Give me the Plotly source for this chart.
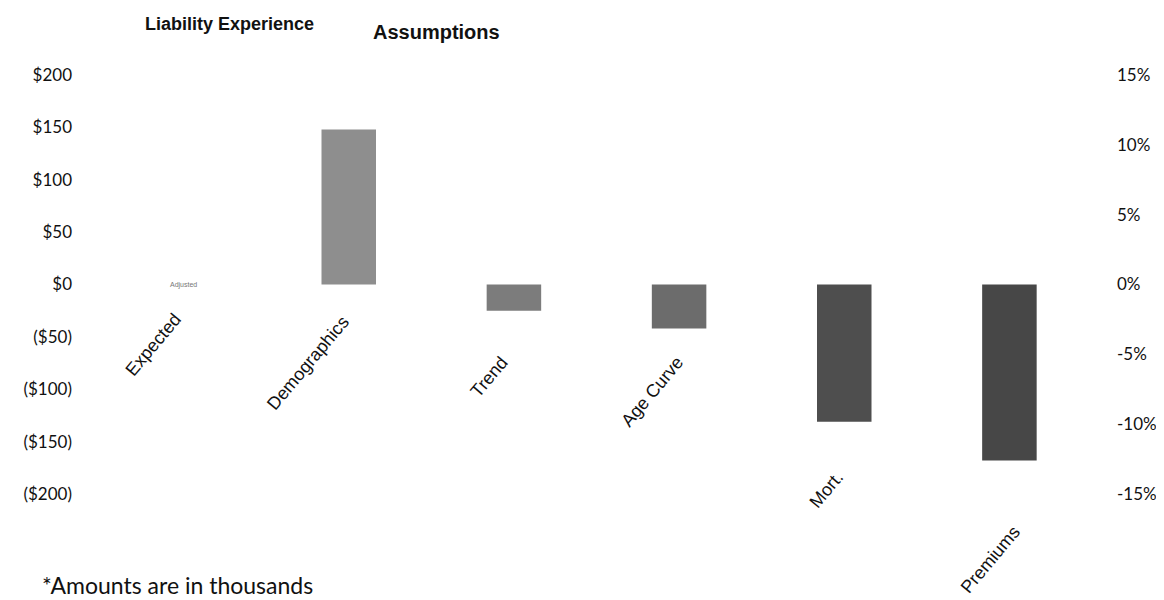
import plotly.graph_objects as go

# ---- data ----
categories = ["Expected", "Demographics", "Trend", "Age Curve", "Mort.", "Premiums"]
values = [0, 148, -25, -42, -131, -168]          # $ thousands
bar_colors = ["#bdbdbd", "#8e8e8e", "#7c7c7c", "#6c6c6c", "#4e4e4e", "#474747"]
left_tickvals = [200, 150, 100, 50, 0, -50, -100, -150, -200]
left_ticktext = ["$200", "$150", "$100", "$50", "$0", "($50)", "($100)", "($150)", "($200)"]
right_tickvals = [15, 10, 5, 0, -5, -10, -15]
titles = ["Liability Experience", "Assumptions"]
footnote = "*Amounts are in thousands"
expected_note = "Adjusted"

# ---- layout geometry ----
OFF = 8                     # default page body margin
W, H = 1164 - OFF, 600 - OFF
# plot area in page pixels: x 101..1092, y 75..494
L, T = 101 - OFF, 75 - OFF
R = W - (1092 - OFF)
B = H - (494 - OFF)
PW, PH = W - L - R, H - T - B


def px(x, y):
    """page pixel -> paper coords"""
    return (x - OFF - L) / PW, (H - B - (y - OFF)) / PH

# label centre positions (page pixels) for rotated category labels
label_centres = [(153, 345), (308, 363), (489, 377), (652, 392), (826, 490), (990, 560)]
title_centres = [(229, 24), (436, 32)]
title_sizes = [18, 20]

fig = go.Figure()
fig.add_trace(go.Bar(
    x=categories, y=values,
    marker=dict(color=bar_colors, line=dict(width=0)),
    width=0.33, showlegend=False, hoverinfo="x+y",
))
# invisible trace on right axis
fig.add_trace(go.Scatter(x=[categories[0]], y=[0], yaxis="y2", mode="markers",
                         marker=dict(opacity=0), showlegend=False, hoverinfo="skip"))

annotations = []
for cat, (cx, cy) in zip(categories, label_centres):
    ax, ay = px(cx, cy)
    annotations.append(dict(text=cat, x=ax, y=ay, xref="paper", yref="paper",
                            xanchor="center", yanchor="middle", textangle=-50,
                            showarrow=False,
                            font=dict(family="Liberation Sans", size=18, color="#111")))

for t, (cx, cy), s in zip(titles, title_centres, title_sizes):
    ax, ay = px(cx, cy)
    annotations.append(dict(text="<b>" + t + "</b>", x=ax, y=ay, xref="paper", yref="paper",
                            xanchor="center", yanchor="middle", showarrow=False,
                            font=dict(family="Liberation Sans", size=s, color="#111")))

ax, ay = px(40, 569)
annotations.append(dict(text=footnote, x=ax, y=ay, xref="paper", yref="paper",
                        xanchor="left", yanchor="top", showarrow=False,
                        font=dict(family="Lato", size=23, color="#111")))
annotations.append(dict(text=expected_note, x=categories[0], y=values[0], xref="x", yref="y",
                        xanchor="center", yanchor="middle", showarrow=False,
                        font=dict(family="Liberation Sans", size=7, color="#777")))

fig.update_layout(
    width=W, height=H,
    margin=dict(l=L, r=R, t=T, b=B, autoexpand=False),
    paper_bgcolor="white", plot_bgcolor="white",
    bargap=0.67,
    xaxis=dict(range=[-0.5, 5.5], showticklabels=False, showgrid=False, zeroline=False,
               showline=False, ticks=""),
    yaxis=dict(range=[-200, 200], tickvals=left_tickvals, ticktext=left_ticktext,
               showgrid=False, zeroline=False, showline=False, ticks="",
               ticklabelstandoff=28,
               tickfont=dict(family="Lato", size=17, color="#111")),
    yaxis2=dict(range=[-15, 15], tickvals=right_tickvals,
                ticktext=[f"{v}%" for v in right_tickvals],
                overlaying="y", side="right", showgrid=False, zeroline=False,
                showline=False, ticks="", ticklabelstandoff=24,
                tickfont=dict(family="Lato", size=17, color="#111")),
    annotations=annotations,
)

fig.write_html("out.html")
